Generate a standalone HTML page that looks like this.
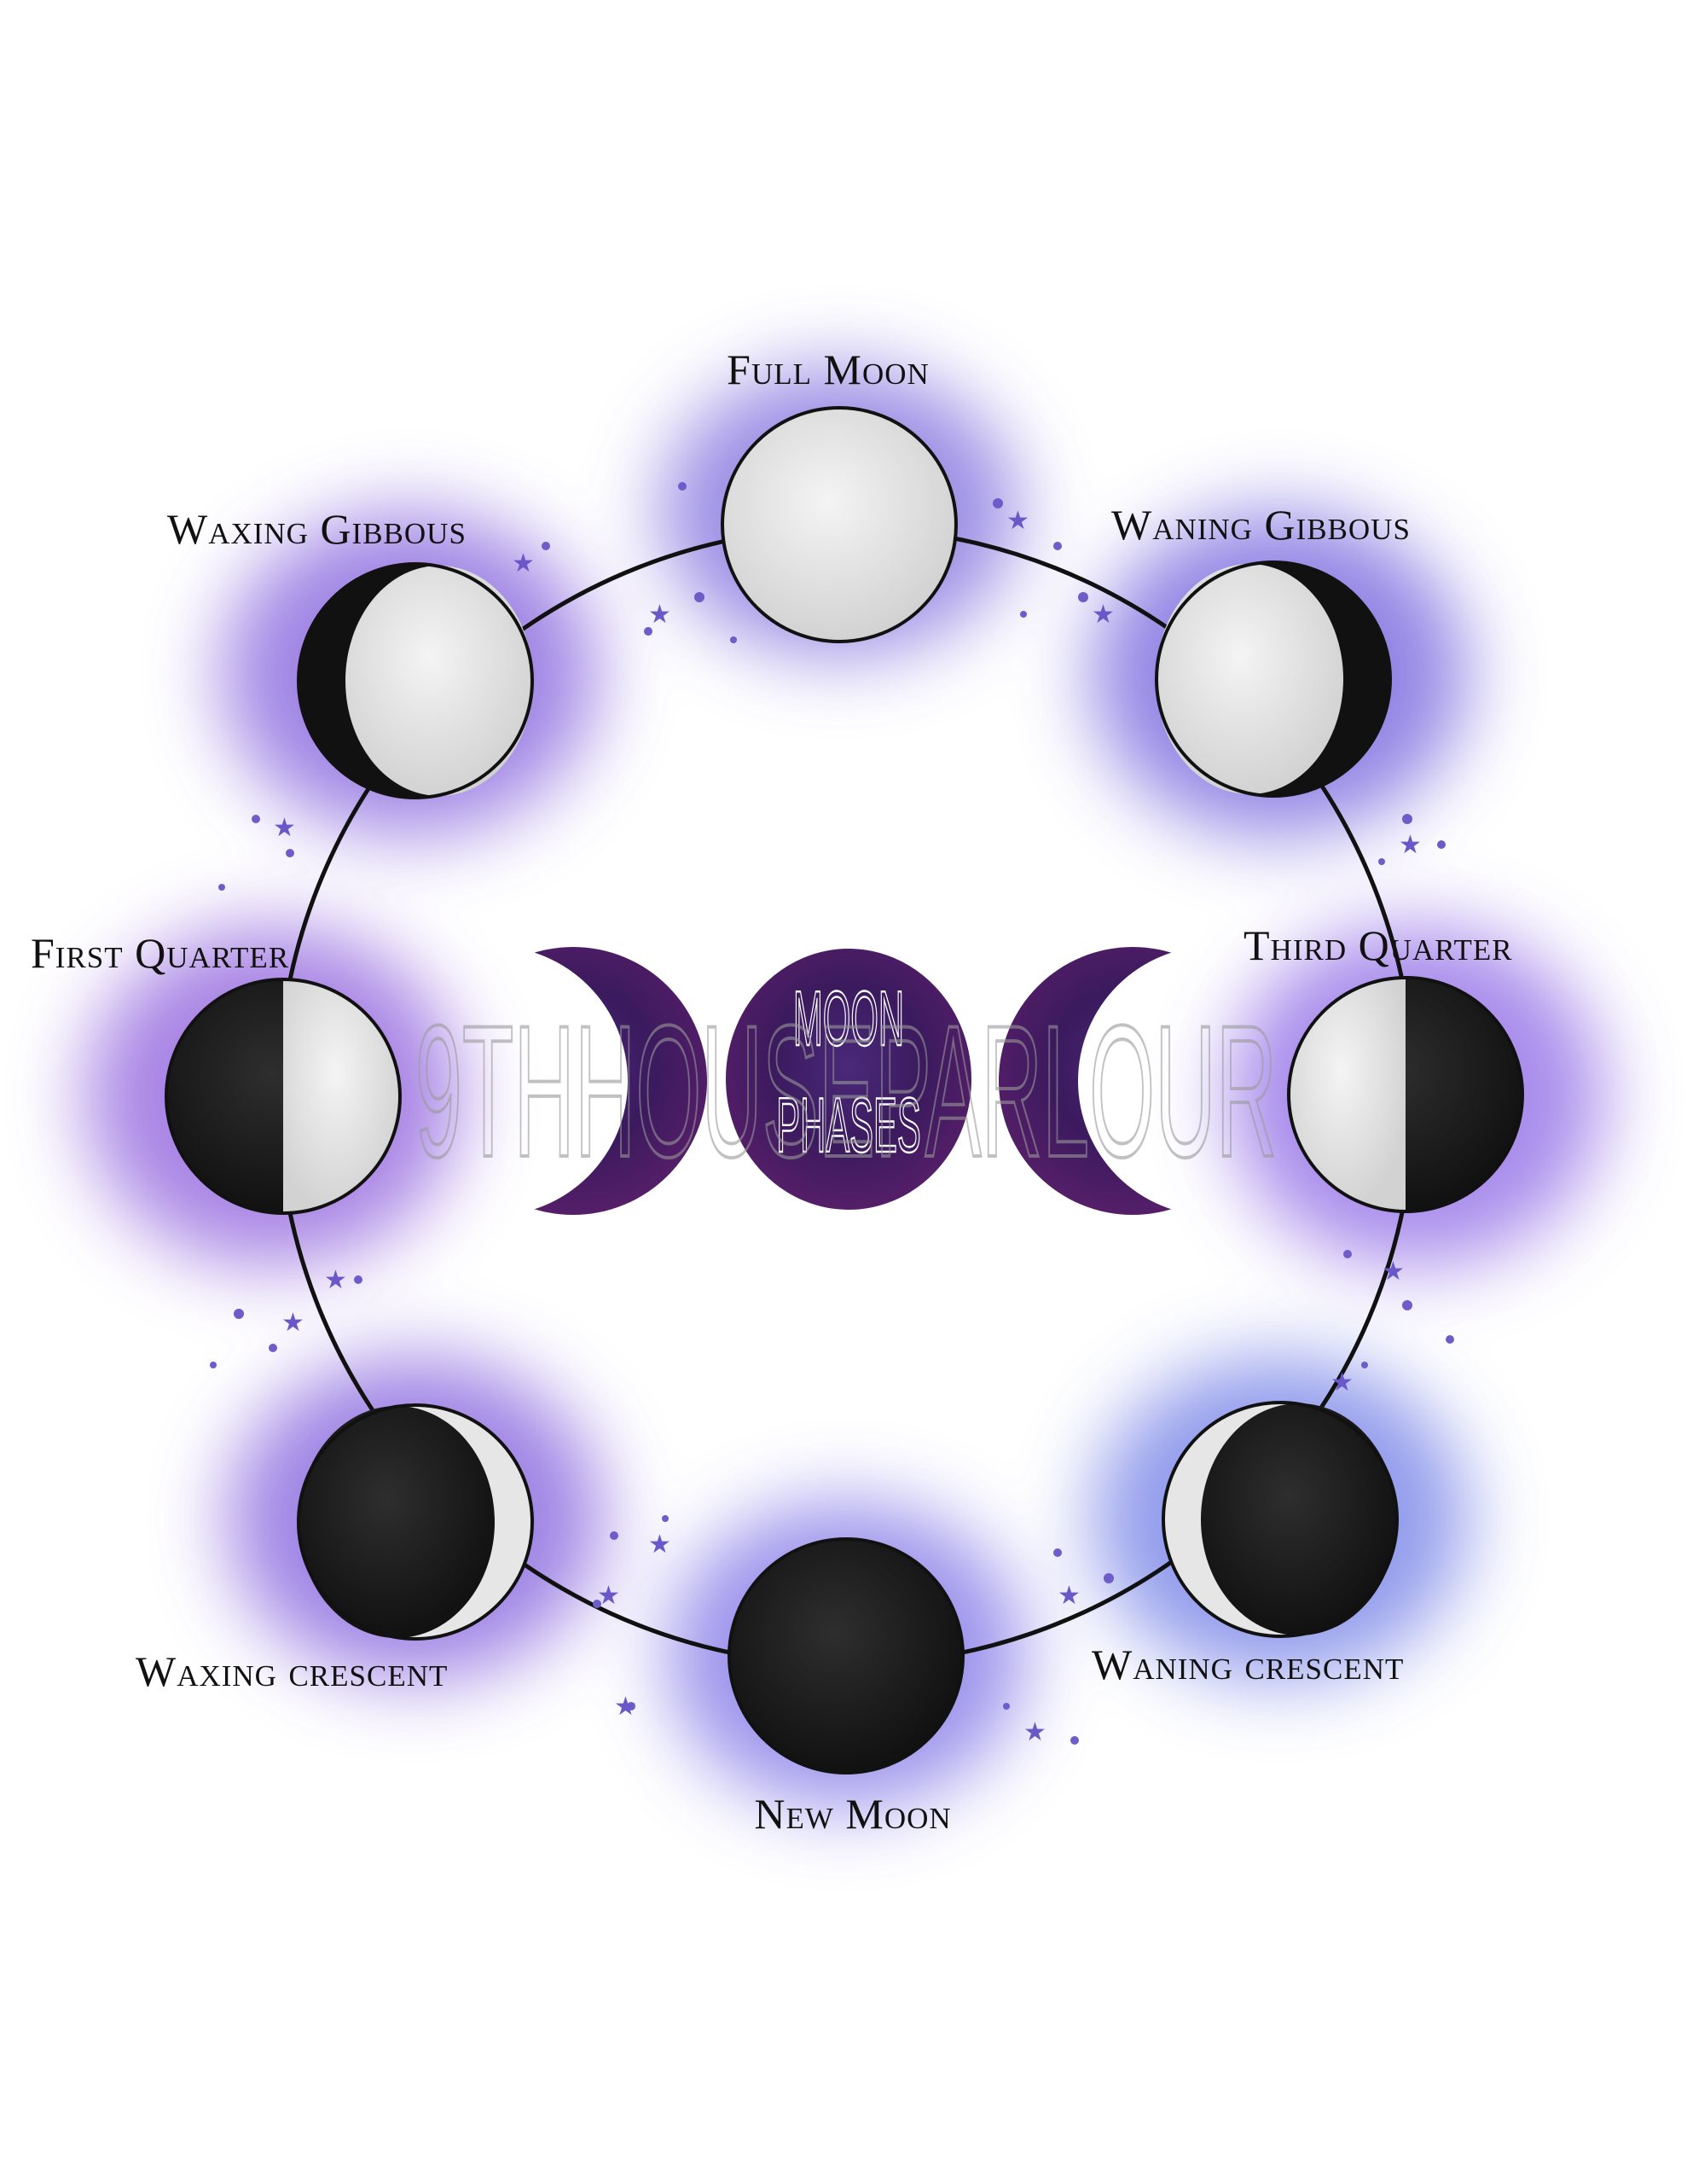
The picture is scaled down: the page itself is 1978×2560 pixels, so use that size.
<!DOCTYPE html>
<html><head><meta charset="utf-8"><style>
html,body{margin:0;padding:0;background:#fff;}
svg{display:block;}
.lbl{font-family:"Liberation Serif",serif;font-size:50px;fill:#111;font-variant:small-caps;letter-spacing:1px;}
</style></head><body>
<svg width="1978" height="2560" viewBox="0 0 1978 2560" xmlns="http://www.w3.org/2000/svg">
<defs>
<filter id="blur" x="-50%" y="-50%" width="200%" height="200%"><feGaussianBlur stdDeviation="45"/></filter>
<radialGradient id="gal" cx="50%" cy="45%" r="60%">
<stop offset="0" stop-color="#4a2a7a"/><stop offset="0.5" stop-color="#3b1a5e"/><stop offset="1" stop-color="#5a1f6a"/></radialGradient>
<radialGradient id="lm" cx="45%" cy="40%" r="60%"><stop offset="0" stop-color="#f4f4f4"/><stop offset="1" stop-color="#d2d2d2"/></radialGradient>
<radialGradient id="dm" cx="45%" cy="40%" r="60%"><stop offset="0" stop-color="#2e2e2e"/><stop offset="1" stop-color="#111"/></radialGradient>
<mask id="mL"><rect width="1978" height="2560" fill="#fff"/><circle cx="578" cy="1267" r="158" fill="#000"/></mask>
<mask id="mR"><rect width="1978" height="2560" fill="#fff"/><circle cx="1422" cy="1267" r="158" fill="#000"/></mask>
</defs>

<g filter="url(#blur)" opacity="0.85">
<ellipse cx="984" cy="600" rx="210" ry="170" fill="#8a7ae0"/>
<ellipse cx="480" cy="790" rx="220" ry="190" fill="#8f6fe0"/>
<ellipse cx="1500" cy="790" rx="220" ry="190" fill="#7f6fe0"/>
<ellipse cx="320" cy="1285" rx="220" ry="200" fill="#9a70e0"/>
<ellipse cx="1660" cy="1285" rx="220" ry="200" fill="#9a78e8"/>
<ellipse cx="487" cy="1780" rx="220" ry="190" fill="#8e6ee0"/>
<ellipse cx="992" cy="1940" rx="210" ry="180" fill="#8a80e8"/>
<ellipse cx="1501" cy="1780" rx="220" ry="190" fill="#7f8ae8"/>
</g>

<circle cx="992" cy="1285" r="666" fill="none" stroke="#111" stroke-width="5"/>

<g fill="#6e5cc8">
<circle cx="800" cy="570" r="5"/><circle cx="820" cy="700" r="6"/><circle cx="760" cy="740" r="5"/><circle cx="640" cy="640" r="5"/><circle cx="860" cy="750" r="4"/>
<circle cx="1170" cy="590" r="6"/><circle cx="1240" cy="640" r="5"/><circle cx="1270" cy="700" r="6"/><circle cx="1200" cy="720" r="4"/>
<circle cx="300" cy="960" r="5"/><circle cx="340" cy="1000" r="5"/><circle cx="260" cy="1040" r="4"/>
<circle cx="1650" cy="960" r="6"/><circle cx="1690" cy="990" r="5"/><circle cx="1620" cy="1010" r="4"/>
<circle cx="280" cy="1540" r="6"/><circle cx="320" cy="1580" r="5"/><circle cx="250" cy="1600" r="4"/><circle cx="420" cy="1500" r="5"/>
<circle cx="1580" cy="1470" r="5"/><circle cx="1650" cy="1530" r="6"/><circle cx="1700" cy="1570" r="5"/><circle cx="1600" cy="1600" r="4"/>
<circle cx="720" cy="1800" r="5"/><circle cx="780" cy="1780" r="4"/><circle cx="700" cy="1880" r="5"/><circle cx="740" cy="2000" r="5"/>
<circle cx="1240" cy="1820" r="5"/><circle cx="1300" cy="1850" r="6"/><circle cx="1180" cy="2000" r="4"/><circle cx="1260" cy="2040" r="5"/>
</g>
<g fill="#6a58c8" font-family="DejaVu Sans" font-size="30">
<text x="600" y="670">★</text><text x="760" y="730">★</text><text x="1180" y="620">★</text><text x="1280" y="730">★</text>
<text x="320" y="980">★</text><text x="1640" y="1000">★</text><text x="380" y="1510">★</text><text x="330" y="1560">★</text>
<text x="1620" y="1500">★</text><text x="1560" y="1630">★</text><text x="760" y="1820">★</text><text x="700" y="1880">★</text>
<text x="1240" y="1880">★</text><text x="1200" y="2040">★</text><text x="720" y="2010">★</text>
</g>

<circle cx="984" cy="615" r="137" fill="url(#lm)" stroke="#111" stroke-width="4"/>
<circle cx="487" cy="798" r="137" fill="#111"/>
<ellipse cx="515" cy="798" rx="110" ry="135" fill="url(#lm)"/>
<circle cx="487" cy="798" r="137" fill="none" stroke="#111" stroke-width="4"/>
<circle cx="1493" cy="796" r="137" fill="#111"/>
<ellipse cx="1465" cy="796" rx="110" ry="135" fill="url(#lm)"/>
<circle cx="1493" cy="796" r="137" fill="none" stroke="#111" stroke-width="4"/>
<circle cx="332" cy="1285" r="137" fill="url(#dm)"/>
<path d="M332 1148 A137 137 0 0 1 332 1422 Z" fill="url(#lm)"/>
<circle cx="332" cy="1285" r="137" fill="none" stroke="#111" stroke-width="4"/>
<circle cx="1648" cy="1283" r="137" fill="url(#dm)"/>
<path d="M1648 1146 A137 137 0 0 0 1648 1420 Z" fill="url(#lm)"/>
<circle cx="1648" cy="1283" r="137" fill="none" stroke="#111" stroke-width="4"/>
<circle cx="487" cy="1784" r="137" fill="#e6e6e6"/>
<ellipse cx="465" cy="1784" rx="115" ry="136" fill="url(#dm)"/>
<circle cx="487" cy="1784" r="137" fill="none" stroke="#111" stroke-width="4"/>
<circle cx="992" cy="1941" r="137" fill="url(#dm)" stroke="#111" stroke-width="4"/>
<circle cx="1501" cy="1781" r="137" fill="#e6e6e6"/>
<ellipse cx="1523" cy="1781" rx="115" ry="136" fill="url(#dm)"/>
<circle cx="1501" cy="1781" r="137" fill="none" stroke="#111" stroke-width="4"/>

<circle cx="672" cy="1267" r="157" fill="url(#gal)" mask="url(#mL)"/>
<circle cx="1328" cy="1267" r="157" fill="url(#gal)" mask="url(#mR)"/>
<ellipse cx="995" cy="1265" rx="146" ry="155" fill="url(#gal)" stroke="#fff" stroke-width="4"/>
<g transform="translate(995 1225) scale(0.55 1.2)"><text x="0" y="0" text-anchor="middle" font-family="Liberation Sans,sans-serif" font-size="76" fill="none" stroke="#fff" stroke-width="2">MOON</text></g>
<g transform="translate(995 1350) scale(0.55 1.2)"><text x="0" y="0" text-anchor="middle" font-family="Liberation Sans,sans-serif" font-size="76" fill="none" stroke="#fff" stroke-width="2">PHASES</text></g>
<g transform="translate(992 1355) scale(0.45 1)"><text x="0" y="0" text-anchor="middle" font-family="Liberation Sans,sans-serif" font-size="220" fill="none" stroke="#999" stroke-width="4" opacity="0.6">9THHOUSEPARLOUR</text></g>

<text class="lbl" x="971" y="450" text-anchor="middle">Full Moon</text>
<text class="lbl" x="196" y="637">Waxing Gibbous</text>
<text class="lbl" x="1303" y="632">Waning Gibbous</text>
<text class="lbl" x="36" y="1134">First Quarter</text>
<text class="lbl" x="1458" y="1125">Third Quarter</text>
<text class="lbl" x="159" y="1976">Waxing crescent</text>
<text class="lbl" x="1280" y="1968">Waning crescent</text>
<text class="lbl" x="1000" y="2143" text-anchor="middle">New Moon</text>
</svg>
</body></html>
